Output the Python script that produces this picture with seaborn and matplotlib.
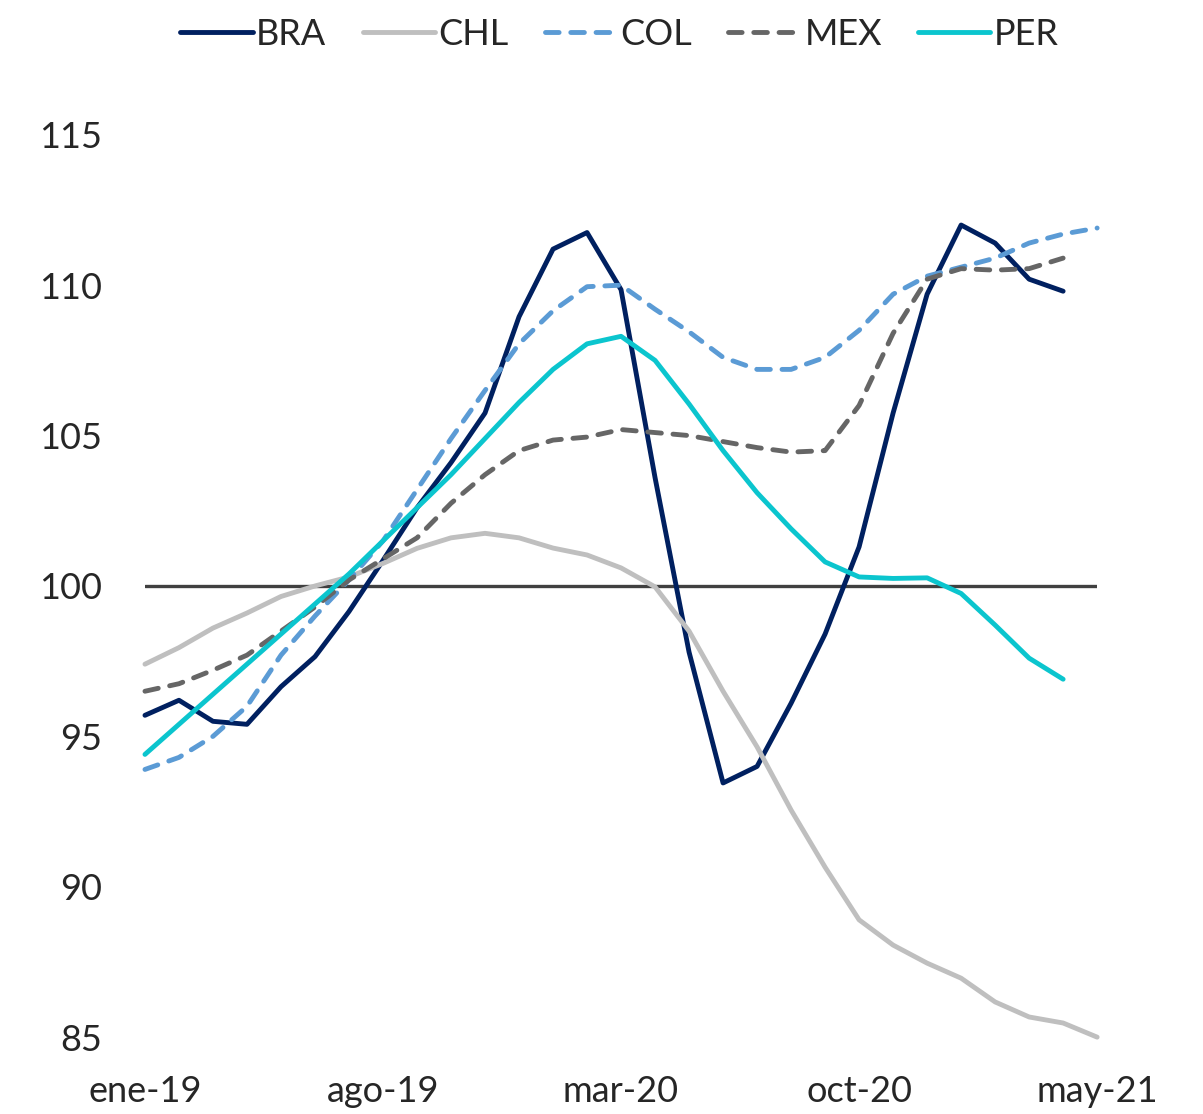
import numpy as np
import pandas as pd
import matplotlib
matplotlib.use('Agg')
import matplotlib.pyplot as plt
import seaborn as sns

# Meses (ene-19 a may-21)
meses = ['ene-19', 'feb-19', 'mar-19', 'abr-19', 'may-19', 'jun-19', 'jul-19',
         'ago-19', 'sep-19', 'oct-19', 'nov-19', 'dic-19', 'ene-20', 'feb-20',
         'mar-20', 'abr-20', 'may-20', 'jun-20', 'jul-20', 'ago-20', 'sep-20',
         'oct-20', 'nov-20', 'dic-20', 'ene-21', 'feb-21', 'mar-21', 'abr-21',
         'may-21']

bra = [95.7, 96.2, 95.5, 95.4, 96.65, 97.65, 99.15, 100.85, 102.6, 104.1,
       105.75, 108.95, 111.2, 111.75, 109.85, 103.6, 97.8, 93.45, 94.0, 96.1,
       98.4, 101.3, 105.75, 109.7, 112.0, 111.4, 110.2, 109.8]
chl = [97.4, 97.95, 98.6, 99.1, 99.65, 100.0, 100.3, 100.75, 101.25, 101.6,
       101.75, 101.6, 101.26, 101.03, 100.6, 99.97, 98.5, 96.5, 94.65, 92.55,
       90.65, 88.9, 88.06, 87.46, 86.96, 86.17, 85.67, 85.47, 85.0]
col = [93.9, 94.3, 95.0, 96.0, 97.7, 99.0, 100.2, 101.5, 103.2, 104.9,
       106.5, 108.05, 109.15, 109.95, 110.0, 109.2, 108.45, 107.6, 107.2, 107.2,
       107.6, 108.5, 109.7, 110.3, 110.6, 110.9, 111.4, 111.7, 111.9]
mex = [96.5, 96.75, 97.2, 97.7, 98.5, 99.3, 100.2, 100.9, 101.6, 102.75,
       103.7, 104.5, 104.85, 104.95, 105.2, 105.1, 105.0, 104.8, 104.6, 104.45,
       104.5, 106.0, 108.4, 110.2, 110.55, 110.5, 110.55, 110.9]
per = [94.4, 95.4, 96.4, 97.4, 98.4, 99.4, 100.4, 101.5, 102.6, 103.7,
       104.9, 106.1, 107.2, 108.05, 108.3, 107.5, 106.05, 104.5, 103.1, 101.9,
       100.8, 100.3, 100.25, 100.27, 99.75, 98.7, 97.6, 96.9]

series = {'BRA': bra, 'CHL': chl, 'COL': col, 'MEX': mex, 'PER': per}
colores = {'BRA': '#002060', 'CHL': '#BFBFBF', 'COL': '#5B9BD5',
           'MEX': '#666666', 'PER': '#0BC5CE'}
estilos = {'BRA': '-', 'CHL': '-', 'COL': (0, (2.8, 2.4)),
           'MEX': (0, (2.8, 2.4)), 'PER': '-'}

sns.set_style('white')
plt.rcParams['font.family'] = ['Lato', 'DejaVu Sans']

fig = plt.figure(figsize=(12.03, 11.14), dpi=100)
ax = fig.add_axes([0.1205, 0.069, 0.7915, 0.81])

ax.axhline(100, color='#404040', lw=2.4, zorder=1)

for pais, valores in series.items():
    df = pd.DataFrame({'x': np.arange(len(valores)), 'y': valores})
    sns.lineplot(data=df, x='x', y='y', ax=ax, color=colores[pais],
                 linestyle=estilos[pais], lw=3.5, label=pais,
                 solid_capstyle='round', dash_capstyle='round',
                 solid_joinstyle='round', clip_on=False, zorder=2)

ax.set_xlim(0, 28)
ax.set_ylim(85, 115)
ax.set_yticks([85, 90, 95, 100, 105, 110, 115])
ticks_x = list(range(0, 29, 7))
ax.set_xticks(ticks_x)
ax.set_xticklabels([meses[i] for i in ticks_x])
ax.tick_params(axis='both', labelsize=26, length=0)
ax.tick_params(axis='y', pad=31)
ax.tick_params(axis='x', pad=27)
ax.set_xlabel('')
ax.set_ylabel('')
for s in ax.spines.values():
    s.set_visible(False)

ax.get_legend().remove()
handles, labels = ax.get_legend_handles_labels()
fig.legend(handles, labels, loc='upper center', bbox_to_anchor=(0.515, 1.013),
           ncol=5, frameon=False, fontsize=26, handlelength=2.0,
           handletextpad=0.1, columnspacing=1.0)

fig.savefig('out.png', dpi=100)
